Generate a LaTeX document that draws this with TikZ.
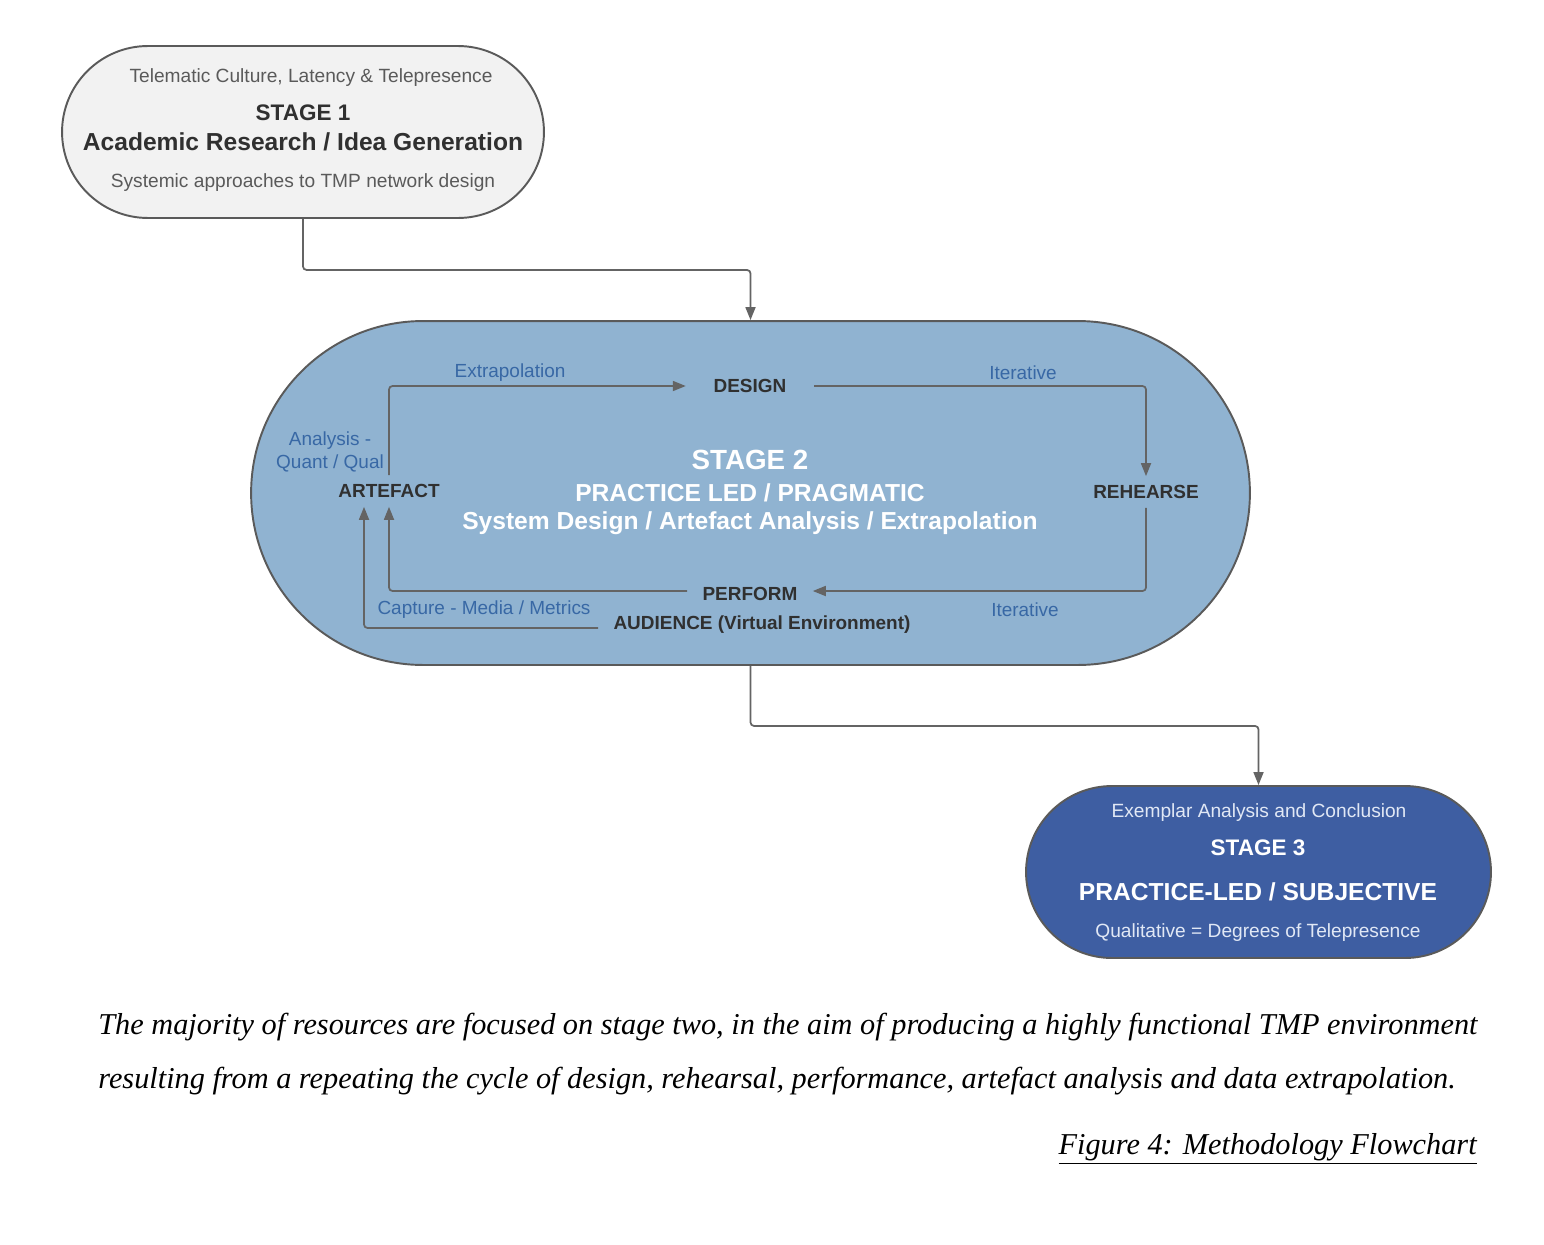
\documentclass[tikz,border=0pt]{standalone}
\usepackage{fontspec}
\setmainfont{Liberation Sans}
\newfontfamily\captionfont{Liberation Serif}
\usepackage{xcolor}
\usepackage{tikz}
\usetikzlibrary{arrows.meta,positioning,calc}
\definecolor{mGrey}{RGB}{90,90,90}
\definecolor{mLine}{RGB}{100,100,100}
\definecolor{mInk}{RGB}{48,48,48}
\definecolor{mSub}{RGB}{90,90,90}
\definecolor{mPale}{RGB}{242,242,242}
\definecolor{mSky}{RGB}{144,179,209}
\definecolor{mNavy}{RGB}{62,94,162}
\definecolor{mLabel}{RGB}{56,104,165}
\definecolor{mMist}{RGB}{225,232,245}
\tikzset{
stageone/.style={rectangle,rounded corners=1.72cm,draw=mGrey,line width=1.1pt,fill=mPale,minimum width=9.64cm,minimum height=3.44cm},
stagetwo/.style={rectangle,rounded corners=3.44cm,draw=mGrey,line width=1.1pt,fill=mSky,minimum width=19.98cm,minimum height=6.88cm},
stagethree/.style={rectangle,rounded corners=1.72cm,draw=mGrey,line width=1.1pt,fill=mNavy,minimum width=9.3cm,minimum height=3.44cm},
subtext/.style={font=\fontsize{10.9}{12}\selectfont,inner sep=0pt},
headtext/.style={font=\bfseries\fontsize{12.8}{14}\selectfont,inner sep=0pt},
bigtext/.style={font=\bfseries\fontsize{14}{16}\selectfont,inner sep=0pt},
cyclestep/.style={font=\bfseries\fontsize{10.8}{12}\selectfont,text=mInk,inner xsep=4pt,inner ysep=5pt},
cyclelabel/.style={font=\fontsize{10.8}{12}\selectfont,text=mLabel,inner sep=0pt,align=center},
link/.style={-{Triangle[length=2.6mm,width=2mm]},line width=1pt,draw=mLine,rounded corners=2pt},
captionline/.style={font=\captionfont\itshape\fontsize{17.25}{20}\selectfont,inner sep=0pt}
}
\begin{document}
\begin{tikzpicture}[x=0.02cm,y=-0.02cm]
\useasboundingbox (0,0) rectangle (1544,1244);
% stage 1
\node[stageone] (s1) at (303,132) {};
\node[subtext,text=mSub] (s1top) at (311,78) {Telematic Culture, Latency \& Telepresence};
\node[headtext,text=mInk] (s1head) at (303,113) {STAGE 1};
\node[bigtext,text=mInk] (s1name) at (303,142) {Academic Research / Idea Generation};
\node[subtext,text=mSub] (s1foot) at (303,183) {Systemic approaches to TMP network design};
% stage 2
\node[stagetwo] (s2) at (750.5,493) {};
\node[font=\bfseries\fontsize{15.8}{18}\selectfont,text=white,inner sep=0pt] (s2head) at (750,460) {STAGE 2};
\node[bigtext,text=white] (s2name) at (750,493) {PRACTICE LED / PRAGMATIC};
\node[bigtext,text=white] (s2sub) at (750,523) {System Design / Artefact Analysis / Extrapolation};
\node[cyclestep,inner xsep=0.55cm] (design) at (750,386) {DESIGN};
\node[cyclestep] (rehearse) at (1146,492) {REHEARSE};
\node[cyclestep,inner xsep=0.3cm] (perform) at (750,594) {PERFORM};
\node[cyclestep,inner xsep=0.3cm] (audience) at (762,625) {AUDIENCE (Virtual Environment)};
\node[cyclestep] (artefact) at (389,491) {ARTEFACT};
\node[cyclelabel] (extra) at (510,373) {Extrapolation};
\node[cyclelabel] (iterone) at (1023,373) {Iterative};
\node[cyclelabel] (itertwo) at (1025,610) {Iterative};
\node[cyclelabel] (capture) at (484,610) {Capture - Media / Metrics};
\node[cyclelabel] (analysis) at (330,452) {Analysis -\\[1pt]Quant / Qual};
% stage 3
\node[stagethree] (s3) at (1258.5,872) {};
\node[subtext,text=mMist] (s3top) at (1259,813) {Exemplar Analysis and Conclusion};
\node[headtext,text=white] (s3head) at (1258,848) {STAGE 3};
\node[bigtext,text=white] (s3name) at (1258,892) {PRACTICE-LED / SUBJECTIVE};
\node[subtext,text=mMist] (s3foot) at (1258,933) {Qualitative = Degrees of Telepresence};
% connectors
\draw[link] (s1.south) -- ++(0,51) -| (s2.north);
\draw[link] (s2.south) -- ++(0,60) -| (s3.north);
\draw[link] (artefact.north) |- (design.west);
\draw[link] (design.east) -| (rehearse.north);
\draw[link] (rehearse.south) |- ([yshift=0.06cm]perform.east);
\draw[link] ([yshift=0.06cm]perform.west) -| (artefact.south);
\draw[link] ([yshift=-0.06cm]audience.west) -| ([xshift=-0.5cm]artefact.south);
% caption
\node[captionline,anchor=west] (capone) at (98,1027) {The majority of resources are focused on stage two, in the aim of producing a highly functional TMP environment};
\node[captionline,anchor=west] (captwo) at (98,1081) {resulting from a repeating the cycle of design, rehearsal, performance, artefact analysis and data extrapolation.};
\node[captionline,anchor=east] (figname) at (1477,1149) {\underline{Figure 4: Methodology Flowchart}};
\end{tikzpicture}
\end{document}
